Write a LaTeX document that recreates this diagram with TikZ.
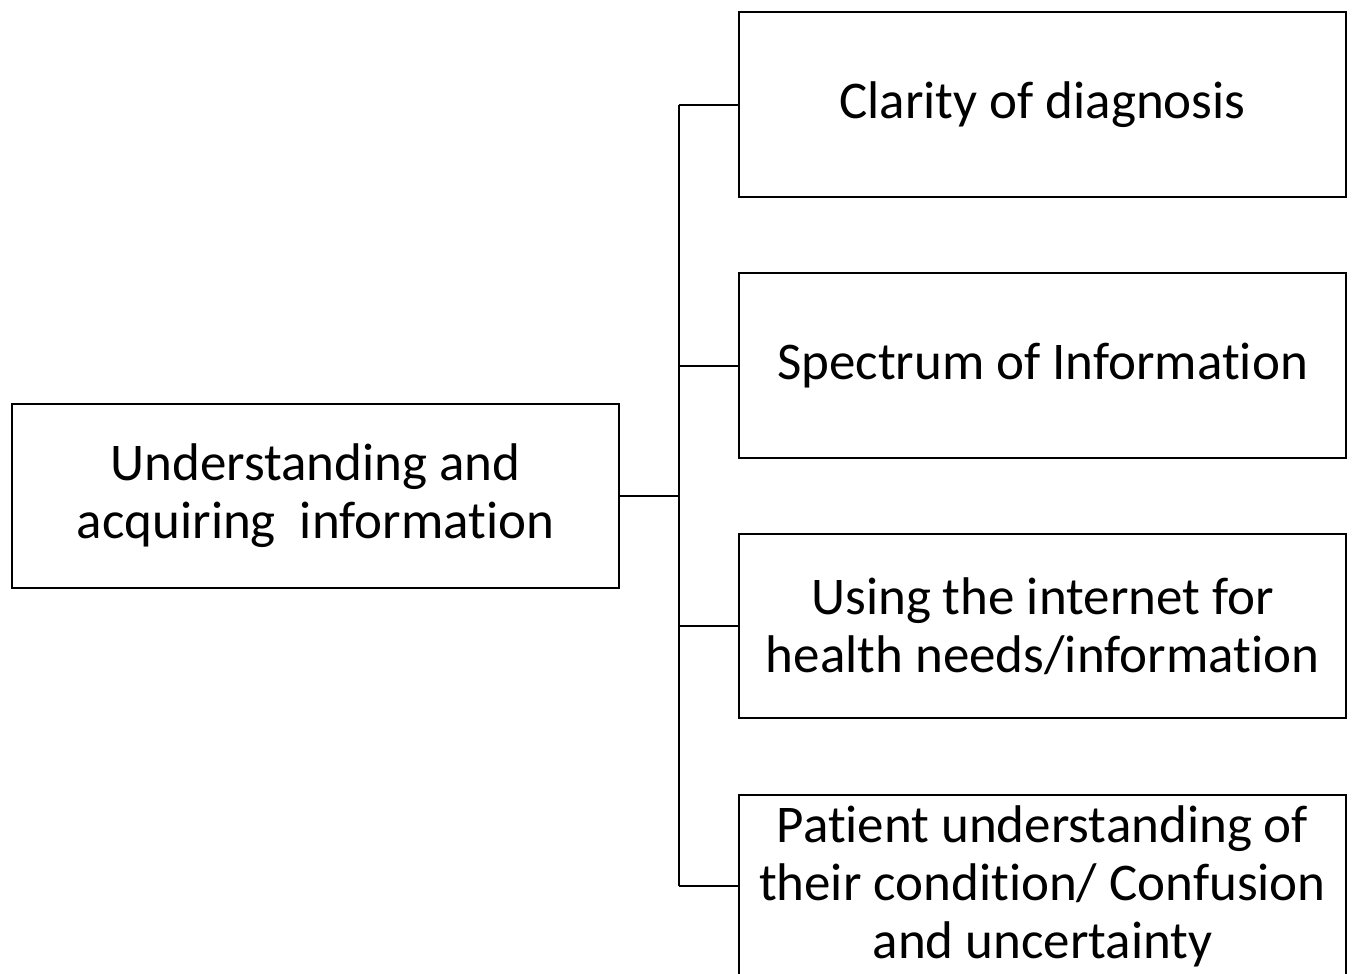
\documentclass[tikz,border=0pt]{standalone}
\usepackage{fontspec}
\setmainfont{Carlito}[RawFeature={-liga}]
\begin{document}
\begin{tikzpicture}[x=1pt,y=-1pt,
  box/.style={draw,line width=2pt,rectangle,minimum width=607pt,align=center,
    font=\fontsize{53}{58}\selectfont,inner sep=0pt},
  link/.style={line width=2pt}]
\useasboundingbox (0,0) rectangle (1354,974);
\node[box,minimum height=184pt] (root) at (315.5,496) {Understanding and\\acquiring\ \ information};
\node[box,minimum height=185pt] (b1) at (1042.5,104.5) {Clarity of diagnosis};
\node[box,minimum height=185pt] (b2) at (1042.5,365.5) {Spectrum of Information};
\node[box,minimum height=184pt] (b3) at (1042.5,626) {Using the internet for\\health needs/information};
\node[box,minimum height=182pt] (b4) at (1042.5,886) {Patient understanding of\\their condition/ Confusion\\and uncertainty};
\coordinate (bt) at (679,104.5);
\coordinate (bb) at (679,886);
\draw[link] (bt) -- (bb);
\draw[link] (root.east) -- (root.east -| bt);
\draw[link] (b1.west) -- (bt);
\draw[link] (b2.west) -- (b2.west -| bt);
\draw[link] (b3.west) -- (b3.west -| bt);
\draw[link] (b4.west) -- (bb);
\end{tikzpicture}
\end{document}
